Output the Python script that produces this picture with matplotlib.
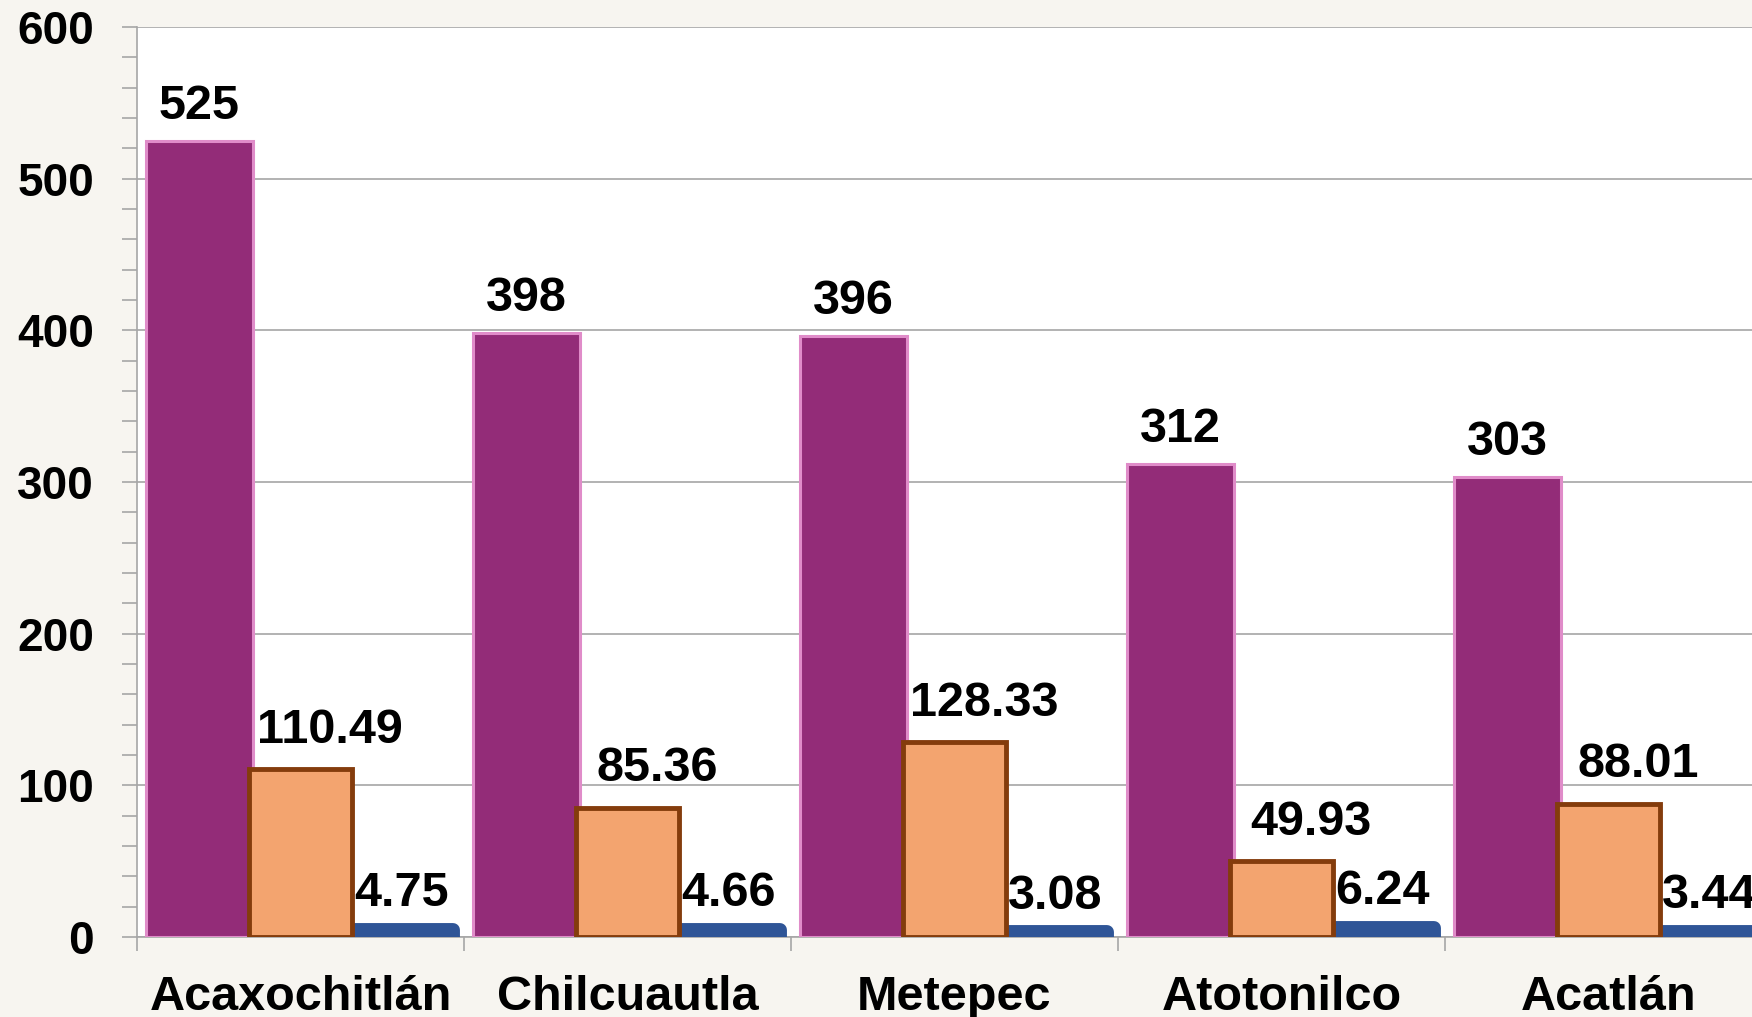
import numpy as np
import matplotlib
matplotlib.use("Agg")
import matplotlib.pyplot as plt
from matplotlib.ticker import MultipleLocator

# data
municipios = ["Acaxochitlán", "Chilcuautla", "Metepec", "Atotonilco", "Acatlán"]
serie_a = [525, 398, 396, 312, 303]
serie_b = [110.49, 85.36, 128.33, 49.93, 88.01]
serie_c = [4.75, 4.66, 3.08, 6.24, 3.44]

plt.rcParams["font.family"] = ["Liberation Sans", "DejaVu Sans"]
plt.rcParams["font.weight"] = "bold"

fig = plt.figure(figsize=(17.52, 10.17), dpi=100)
fig.patch.set_facecolor("#F7F5F0")
# plot area runs past the right edge of the picture, like the reference
ax = fig.add_axes([137 / 1752, 80 / 1017, 1635 / 1752, 910 / 1017])
ax.set_facecolor("#FFFFFF")

x = np.arange(len(municipios))
step = 0.309

ax.bar(x - step, serie_a, width=0.325, color="#932C78", edgecolor="#E08CC9",
       linewidth=2.2, zorder=3)
ax.bar(x, serie_b, width=0.318, color="#F3A46F", edgecolor="#843C0C",
       linewidth=3.5, zorder=5)
ax.bar(x + step, serie_c, width=0.315, color="#2F5597", edgecolor="#2F5597",
       linewidth=10, joinstyle="round", zorder=4)

lbl = dict(ha="center", va="bottom", fontsize=35, fontweight="bold", color="black", zorder=6)
for i in range(len(municipios)):
    ax.text(x[i] - step, serie_a[i] + 8, f"{serie_a[i]}", **lbl)
    ax.text(x[i] + 0.09, serie_b[i] + 11, f"{serie_b[i]:.2f}", **lbl)
    ax.text(x[i] + step, serie_c[i] + 9, f"{serie_c[i]:.2f}", **lbl)

ax.set_ylim(0, 600)
ax.set_xlim(-0.5, len(municipios) - 0.5)

ax.yaxis.set_major_locator(MultipleLocator(100))
ax.yaxis.set_minor_locator(MultipleLocator(20))
ax.grid(axis="y", which="major", color="#A6A6A6", linewidth=1.2, zorder=0)
ax.set_axisbelow(True)

ax.set_xticks(x)
ax.set_xticklabels(municipios)
ax.set_xticks(np.arange(len(municipios) + 1) - 0.5, minor=True)
ax.tick_params(axis="x", which="major", length=0, pad=27, labelsize=35)
ax.tick_params(axis="x", which="minor", length=10, width=1.2, color="#A6A6A6", direction="out")
ax.tick_params(axis="y", which="both", length=11, width=1.2, color="#A6A6A6", direction="out")
ax.tick_params(axis="y", which="major", pad=20, labelsize=33)
for t in ax.get_xticklabels() + ax.get_yticklabels():
    t.set_fontweight("bold")

for s in ["top", "right"]:
    ax.spines[s].set_visible(False)
for s in ["left", "bottom"]:
    ax.spines[s].set_color("#A6A6A6")
    ax.spines[s].set_linewidth(1.2)

fig.savefig("out.png", dpi=100, facecolor=fig.get_facecolor())
